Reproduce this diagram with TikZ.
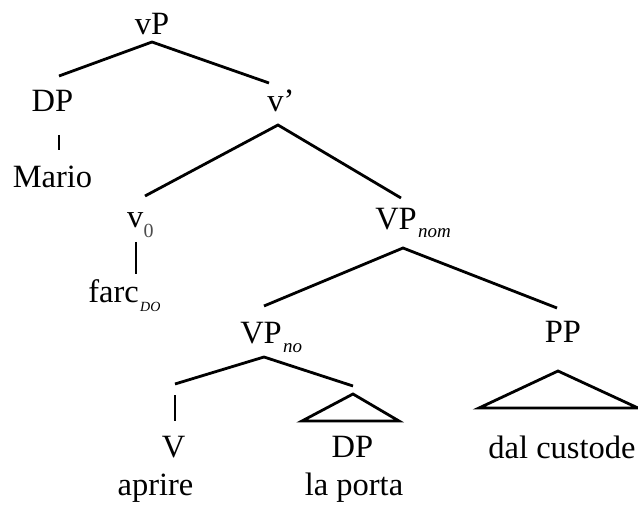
\documentclass[tikz,border=0pt]{standalone}
\usepackage{fontspec}
\setmainfont{Liberation Serif}
\begin{document}
\begin{tikzpicture}[x=1pt,y=-1pt,
  lbl/.style={anchor=base,inner sep=0pt,font=\fontsize{32.5}{36}\selectfont},
  sub/.style={anchor=base west,inner sep=0pt,font=\fontsize{19}{22}\selectfont\itshape},
  branch/.style={line width=2.8pt,line cap=butt,line join=miter}]
\useasboundingbox (0,0) rectangle (638,508);

% category labels
\node[lbl] (vP)   at (152,35)  {vP};
\node[lbl] (DP1)  at (52.5,112) {DP};
\node[lbl] (vbar) at (281,112) {v’};
\node[lbl] (mario) at (52.5,188) {Mario};
\node[lbl,anchor=base east] (v0) at (143.5,228) {v};
\node[anchor=base west,inner sep=0pt,font=\fontsize{20}{22}\selectfont,text=black!70] (v0s) at (v0.base east) [yshift=-9pt] {0};
\node[lbl,anchor=base east] (farc) at (139,302) {farc};
\node[anchor=base west,inner sep=0pt,font=\fontsize{14}{16}\selectfont\itshape] (farcs) at (farc.base east) [yshift=-10pt,xshift=1pt] {DO};
\node[lbl,anchor=base east] (VPnom) at (417,230) {VP};
\node[sub] (VPnoms) at (VPnom.base east) [yshift=-7pt,xshift=1pt] {nom};
\node[lbl,anchor=base east] (VPno) at (282,343) {VP};
\node[sub] (VPnos) at (VPno.base east) [yshift=-9pt,xshift=1pt] {no};
\node[lbl] (PP)  at (563,342) {PP};
\node[lbl] (V)   at (173.5,457) {V};
\node[lbl] (DP2) at (352.5,457) {DP};
\node[lbl] (custode) at (562,458) {dal custode};
\node[lbl] (aprire) at (155.5,495) {aprire};
\node[lbl] (porta)  at (354,495) {la porta};

% branch end points
\coordinate (vP-t)   at (152,42);
\coordinate (DP1-t)  at (59,76);
\coordinate (vbar-t) at (269,83);
\coordinate (DP1-b)  at (59,135);
\coordinate (mario-t) at (59,150);
\coordinate (vbar-b) at (278,125);
\coordinate (v0-t)   at (145,196);
\coordinate (VPnom-t) at (401,198);
\coordinate (v0-b)   at (136,242);
\coordinate (farc-t) at (136,274);
\coordinate (VPnom-b) at (403,248);
\coordinate (VPno-t) at (264,306);
\coordinate (PP-t)   at (557,308);
\coordinate (VPno-b) at (264,357);
\coordinate (V-top)  at (175,384);
\coordinate (DP2-top) at (353,386);
\coordinate (V-b)    at (175,395);
\coordinate (V-lbl)  at (175,421);
\coordinate (DP2-apex) at (353,394);
\coordinate (DP2-l)  at (302,421);
\coordinate (DP2-r)  at (399,421);
\coordinate (PP-apex) at (558,371);
\coordinate (PP-l)   at (479,408);
\coordinate (PP-r)   at (638,408);

% branches
\draw[branch] (DP1-t) -- (vP-t) -- (vbar-t);
\draw[branch] (DP1-b) -- (mario-t);
\draw[branch] (v0-t) -- (vbar-b) -- (VPnom-t);
\draw[branch] (v0-b) -- (farc-t);
\draw[branch] (VPno-t) -- (VPnom-b) -- (PP-t);
\draw[branch] (V-top) -- (VPno-b) -- (DP2-top);
\draw[branch] (V-b) -- (V-lbl);
\draw[branch] (DP2-l) -- (DP2-apex) -- (DP2-r) -- cycle;
\draw[branch] (PP-l) -- (PP-apex) -- (PP-r) -- cycle;
\end{tikzpicture}
\end{document}
